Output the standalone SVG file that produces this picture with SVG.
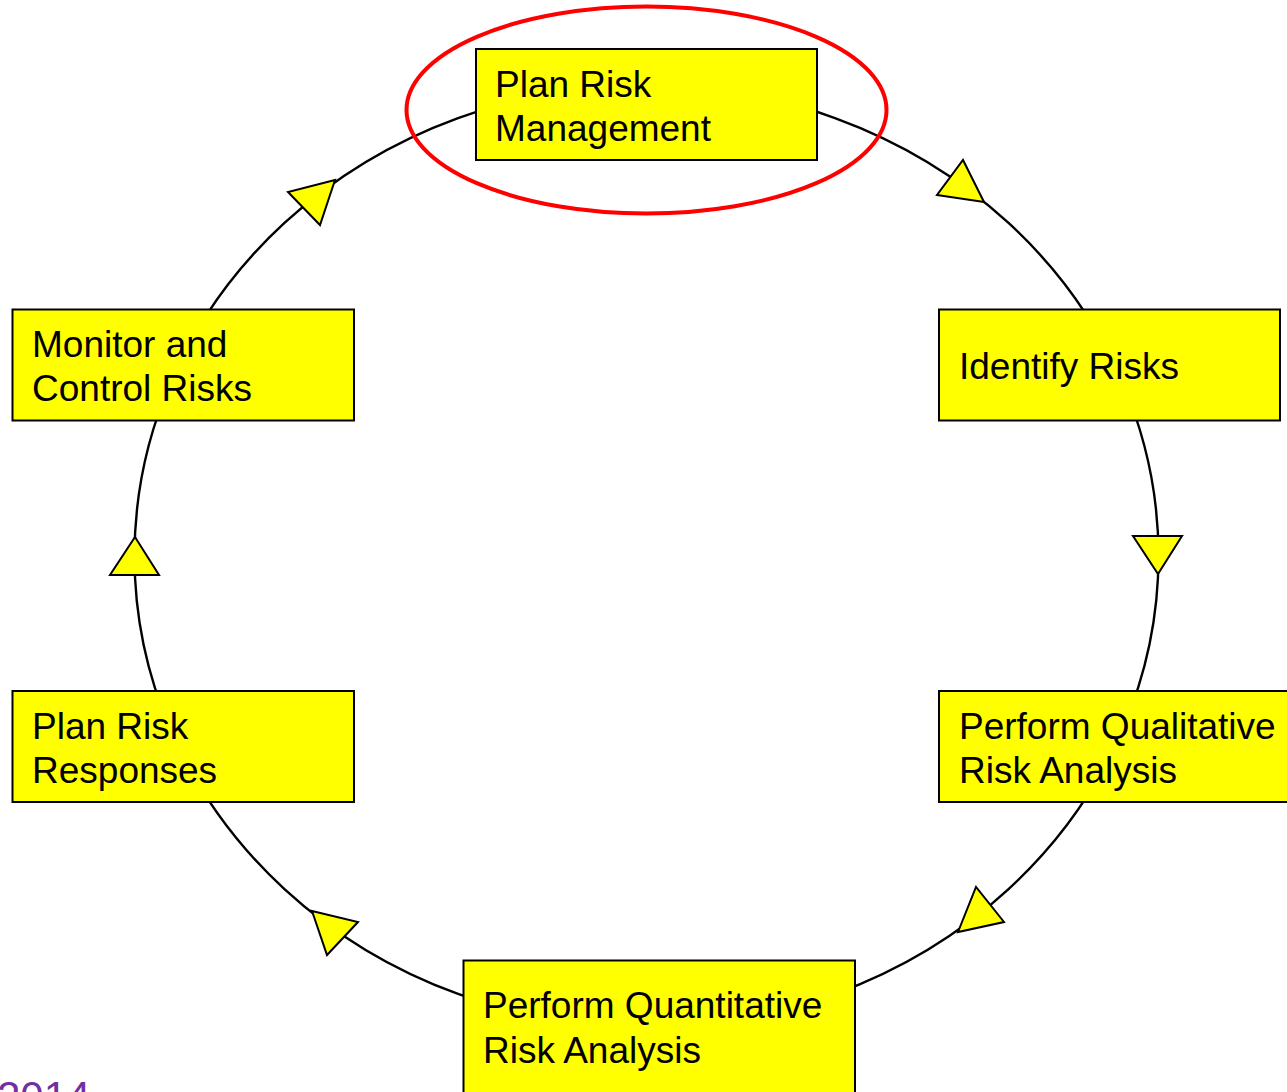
<svg xmlns="http://www.w3.org/2000/svg" width="1287" height="1092" viewBox="0 0 1287 1092">
<style>
.box{fill:#FFFF00;stroke:#000;stroke-width:2}
.lbl{font-family:"Liberation Sans",Arial,sans-serif;font-size:37px;fill:#000}
.ring{fill:none;stroke:#000;stroke-width:2.4}
.arr{fill:#FFFF00;stroke:#000;stroke-width:2;stroke-linejoin:miter}
</style>
<rect width="1287" height="1092" fill="#fff"/>
<g id="connectors">
<ellipse class="ring" cx="646.5" cy="556" rx="512" ry="471"/>
</g>
<g id="node-plan-risk-management">
<rect class="box" x="476" y="49" width="341" height="111"/>
<text class="lbl" x="495" y="97">Plan Risk</text>
<text class="lbl" x="495" y="141">Management</text>
</g>
<g id="node-identify-risks">
<rect class="box" x="939" y="309.5" width="341" height="111"/>
<text class="lbl" x="959" y="379">Identify Risks</text>
</g>
<g id="node-perform-qualitative">
<rect class="box" x="939" y="691" width="360" height="111"/>
<text class="lbl" x="959" y="739">Perform Qualitative</text>
<text class="lbl" x="959" y="783">Risk Analysis</text>
</g>
<g id="node-perform-quantitative">
<rect class="box" x="463.5" y="960.5" width="391.5" height="150"/>
<text class="lbl" x="483" y="1018">Perform Quantitative</text>
<text class="lbl" x="483" y="1063">Risk Analysis</text>
</g>
<g id="node-plan-risk-responses">
<rect class="box" x="12.5" y="691" width="341.5" height="111"/>
<text class="lbl" x="32" y="739">Plan Risk</text>
<text class="lbl" x="32" y="783">Responses</text>
</g>
<g id="node-monitor-control">
<rect class="box" x="12.5" y="309.5" width="341.5" height="111"/>
<text class="lbl" x="32" y="357">Monitor and</text>
<text class="lbl" x="32" y="401">Control Risks</text>
</g>
<g id="arrowheads">
<polygon class="arr" points="335,180 288,192 320,225"/>
<polygon class="arr" points="984,202 963,160 937,195"/>
<polygon class="arr" points="1158,574 1133,536 1182,536"/>
<polygon class="arr" points="958,932 976,887 1004,922"/>
<polygon class="arr" points="312,911 358,922 327,955"/>
<polygon class="arr" points="135,537 110,575 159,575"/>
</g>
<g id="highlight">
<ellipse cx="646.5" cy="110" rx="240" ry="103.5" fill="none" stroke="#FF0000" stroke-width="4"/>
</g>
<text x="-3" y="1111" font-family="'Liberation Sans',Arial,sans-serif" font-size="42" fill="#7030A0">2014</text>
</svg>
